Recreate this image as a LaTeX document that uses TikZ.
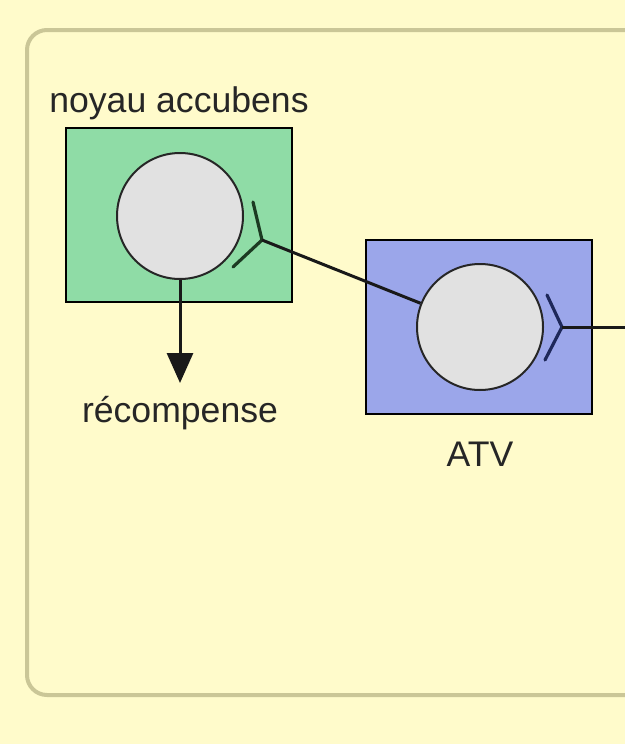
\documentclass[tikz,border=0pt]{standalone}
\usepackage{fontspec}
\setmainfont{Liberation Sans}
\usepackage{xcolor}
\usetikzlibrary{positioning,arrows.meta}
\definecolor{bgyellow}{HTML}{FFFBCB}
\definecolor{framecol}{HTML}{CAC697}
\definecolor{nagreen}{HTML}{8FDCA6}
\definecolor{atvblue}{HTML}{9BA6EA}
\definecolor{cellgray}{HTML}{E1E1E1}
\definecolor{nadark}{HTML}{1C3A22}
\definecolor{atvdark}{HTML}{1E285A}

\begin{document}
\begin{tikzpicture}[x=0.5pt, y=-0.5pt,
  every node/.style={font=\fontsize{17.8}{21}\selectfont, text=black!85},
  region/.style={draw=black, line width=0.8pt, minimum width=113pt, minimum height=87pt, inner sep=0pt},
  cell/.style={circle, draw=black!85, line width=1pt, fill=cellgray, minimum size=63pt, inner sep=0pt},
  axon/.style={line width=1.5pt, black!90},
  receptor/.style={line width=1.6pt, line cap=round}]
\useasboundingbox (0,0) rectangle (625,744);
\fill[bgyellow] (0,0) rectangle (625,744);

% Frame
\begin{scope}
\clip (0,0) rectangle (625,744);
\draw[framecol, line width=2pt, rounded corners=10pt] (27,30) rectangle (690,695);
\end{scope}

% Noyau accubens
\node[region, fill=nagreen] (nabox) at (179,215) {};
\node[cell] (na) at (180,216) {};
\node[above=0pt of nabox] (nalabel) {noyau accubens};

% ATV
\node[region, fill=atvblue] (atvbox) at (479,327) {};
\node[cell] (atv) at (480,327) {};
\node[anchor=base] (atvlabel) at (480,466) {ATV};

% Reward
\coordinate (rewtip) at (180,383);
\draw[axon, -{Triangle[width=13pt,length=15pt]}] (na) -- (rewtip);
\node[anchor=base] (rew) at (180,422) {récompense};

% Synapse ATV -> noyau accubens
\coordinate (nasyn) at (262,240);
\draw[receptor, nadark] (253,202) -- (nasyn) -- (233,267);
\draw[axon] (nasyn) -- (atv);

% Synapse on ATV
\coordinate (atvsyn) at (562,327);
\coordinate (atvout) at (625,327);
\draw[receptor, atvdark] (547,295) -- (atvsyn) -- (545,360);
\draw[axon] (atvsyn) -- (atvout);
\end{tikzpicture}
\end{document}
